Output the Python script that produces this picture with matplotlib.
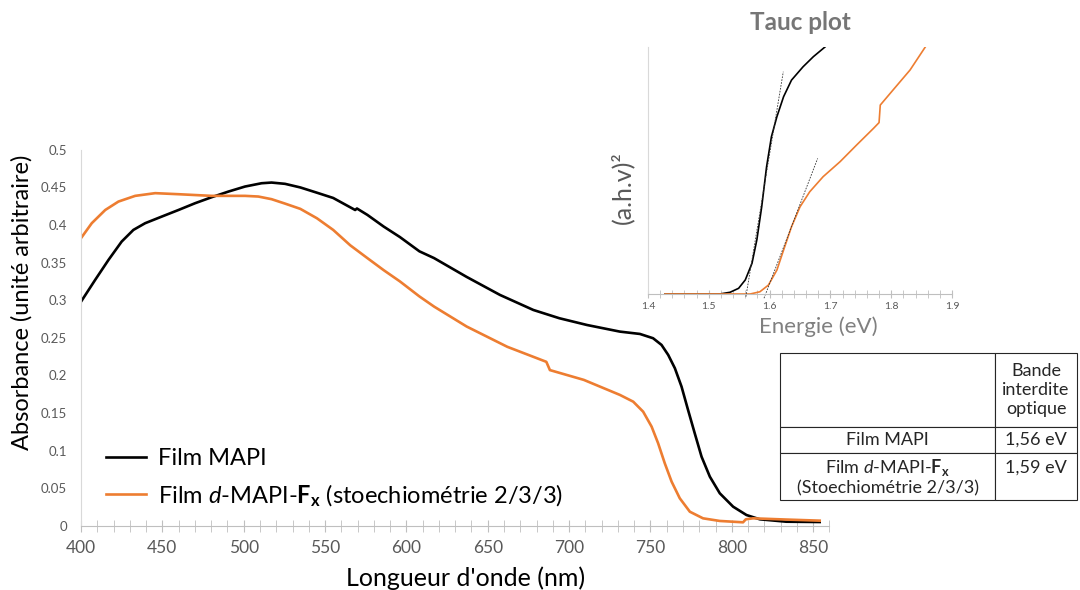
import matplotlib
matplotlib.use("Agg")
import matplotlib.pyplot as plt
from matplotlib.ticker import MultipleLocator, FuncFormatter

plt.rcParams["font.family"] = ["Lato", "DejaVu Sans"]
plt.rcParams["mathtext.fontset"] = "custom"
plt.rcParams["mathtext.rm"] = "Lato"
plt.rcParams["mathtext.it"] = "Lato:italic"
plt.rcParams["mathtext.bf"] = "Lato:bold"

# --- Absorbance spectra (nm, arbitrary units) ---
wl_mapi = [400, 408.7, 416.9, 425, 432.2, 439.4, 449.6, 459.9, 470.1, 480.3, 490.6,
           500.8, 511, 517.1, 525.4, 534.8, 545, 555, 568.5, 569.6, 576, 586, 596,
           608, 617, 637, 657.5, 678, 694, 711, 731.2, 743.5, 751.6, 756.8, 760.9,
           765, 769.1, 773.1, 777.2, 781.4, 786.5, 792.6, 800.8, 809, 817.2, 833.5, 854]
abs_mapi = [0.298, 0.327, 0.3536, 0.378, 0.3935, 0.4024, 0.4112, 0.420, 0.429, 0.437,
            0.4445, 0.4512, 0.4556, 0.4565, 0.4548, 0.450, 0.443, 0.436, 0.420, 0.422,
            0.4135, 0.398, 0.384, 0.365, 0.356, 0.331, 0.307, 0.287, 0.276, 0.267,
            0.2582, 0.2551, 0.2494, 0.2405, 0.2272, 0.2095, 0.185, 0.154, 0.123,
            0.0918, 0.0652, 0.0431, 0.0253, 0.0142, 0.0085, 0.0053, 0.0049]

wl_dmapi = [400, 406.6, 414.9, 423, 433.3, 445.6, 459.9, 480.3, 500.8, 509, 517.1,
            525.4, 534.8, 545, 555, 565.5, 576, 586, 596, 608, 617, 637, 662, 686,
            688.2, 709, 731.2, 739.4, 745.5, 750.7, 754.7, 758.8, 763, 768, 774.2,
            782.3, 792.6, 806.9, 808.6, 813, 833, 854]
abs_dmapi = [0.3825, 0.4024, 0.420, 0.4312, 0.4388, 0.4424, 0.441, 0.4388, 0.4388,
             0.4379, 0.4344, 0.4285, 0.4215, 0.409, 0.3935, 0.373, 0.356, 0.340,
             0.325, 0.305, 0.2915, 0.265, 0.238, 0.218, 0.207, 0.194, 0.174, 0.165,
             0.1517, 0.1318, 0.1097, 0.083, 0.0586, 0.0365, 0.0186, 0.0098, 0.0063,
             0.0045, 0.0085, 0.0098, 0.0082, 0.0067]

# --- Tauc plot (eV, normalised (a.h.v)^2) ---
e_mapi = [1.428, 1.518, 1.535, 1.549, 1.560, 1.571, 1.579, 1.587, 1.595, 1.603,
          1.612, 1.623, 1.636, 1.655, 1.672, 1.691]
tauc_mapi = [0, 0, 0.007, 0.023, 0.057, 0.124, 0.219, 0.353, 0.515, 0.637, 0.718,
             0.799, 0.866, 0.920, 0.961, 1.0]
e_dmapi = [1.428, 1.568, 1.584, 1.598, 1.612, 1.623, 1.636, 1.650, 1.666, 1.688,
           1.716, 1.743, 1.771, 1.780, 1.782, 1.803, 1.831, 1.856]
tauc_dmapi = [0, 0, 0.009, 0.036, 0.097, 0.178, 0.272, 0.353, 0.414, 0.475, 0.536,
              0.603, 0.671, 0.694, 0.765, 0.826, 0.907, 1.0]
fit_mapi_e = [1.561, 1.6225]
fit_mapi_y = [-0.011, 0.900]
fit_dmapi_e = [1.5908, 1.679]
fit_dmapi_y = [-0.017, 0.549]

# --- Table ---
table_rows = [["", "Bande\ninterdite\noptique"],
              ["Film MAPI", "1,56 eV"],
              ["Film $\\mathit{d}$-MAPI-$\\mathbf{F_x}$\n(Stoechiométrie 2/3/3)", "1,59 eV\n"]]

BLACK = "#000000"
ORANGE = "#ED7D31"
GREY = "#595959"

fig = plt.figure(figsize=(10.8, 5.9), dpi=100)

# --- Main absorbance plot ---
ax = fig.add_axes([0.075, 0.109, 0.693, 0.637])
ax.plot(wl_mapi, abs_mapi, color=BLACK, lw=1.9, label="Film MAPI")
ax.plot(wl_dmapi, abs_dmapi, color=ORANGE, lw=1.9,
        label="Film $\\mathit{d}$-MAPI-$\\mathbf{F_x}$ (stoechiométrie 2/3/3)")
ax.set_xlim(400, 860)
ax.set_ylim(0, 0.5)
ax.xaxis.set_major_locator(MultipleLocator(50))
ax.xaxis.set_minor_locator(MultipleLocator(10))
ax.yaxis.set_major_locator(MultipleLocator(0.05))
ax.yaxis.set_major_formatter(FuncFormatter(lambda v, p: f"{v:g}"))
for s in ["top", "right"]:
    ax.spines[s].set_visible(False)
ax.spines["left"].set_color("#d9d9d9")
ax.spines["bottom"].set_color("#bfbfbf")
ax.tick_params(axis="y", length=0, pad=10, labelsize=9.5, labelcolor=GREY)
ax.tick_params(axis="x", which="both", direction="inout", length=9, color="#bfbfbf",
               labelsize=12.5, labelcolor=GREY, pad=6)
ax.set_xlabel("Longueur d'onde (nm)", fontsize=18, labelpad=7)
ax.set_ylabel("Absorbance (unité arbitraire)", fontsize=17, labelpad=6)
ax.xaxis.label.set_x(0.514)
ax.yaxis.label.set_y(0.595)
ax.legend(loc="lower left", bbox_to_anchor=(0.018, 0.014), frameon=False, fontsize=17,
          handlelength=1.7, handletextpad=0.5, labelspacing=0.55, borderpad=0)

# --- Inset Tauc plot ---
ins = fig.add_axes([0.6, 0.5017, 0.2815, 0.4186])
ins.patch.set_alpha(0)
ins.plot(e_mapi, tauc_mapi, color=BLACK, lw=1.2)
ins.plot(e_dmapi, tauc_dmapi, color=ORANGE, lw=1.2)
ins.plot(fit_mapi_e, fit_mapi_y, color="#333333", lw=0.6, ls=(0, (2, 1.5)), clip_on=False)
ins.plot(fit_dmapi_e, fit_dmapi_y, color="#333333", lw=0.6, ls=(0, (2, 1.5)), clip_on=False)
ins.set_xlim(1.4, 1.9)
ins.set_ylim(0, 1)
ins.xaxis.set_major_locator(MultipleLocator(0.1))
ins.xaxis.set_minor_locator(MultipleLocator(0.02))
ins.xaxis.set_major_formatter(FuncFormatter(lambda v, p: f"{v:.1f}"))
ins.set_yticks([])
for s in ["top", "right"]:
    ins.spines[s].set_visible(False)
ins.spines["left"].set_color("#d9d9d9")
ins.spines["bottom"].set_color("#bfbfbf")
ins.tick_params(axis="x", which="both", direction="inout", length=6, color="#bfbfbf",
                labelsize=7.5, labelcolor=GREY, pad=3)
ins.set_xlabel("Energie (eV)", fontsize=16, color="#808080", labelpad=4)
ins.set_ylabel("(a.h.v)²", fontsize=18, color=GREY, labelpad=10)
ins.xaxis.label.set_x(0.559)
ins.yaxis.label.set_y(0.429)
ins.set_title("Tauc plot", fontsize=17.5, fontweight="bold", color="#767676", pad=12)

# --- Band gap table ---
tax = fig.add_axes([0.7222, 0.1525, 0.275, 0.249])
tax.axis("off")
tbl = tax.table(cellText=table_rows, colWidths=[0.725, 0.275], cellLoc="center",
                bbox=[0, 0, 1, 1])
tbl.auto_set_font_size(False)
tbl.set_fontsize(13)
row_h = [74, 26, 47]
for (r, c), cell in tbl.get_celld().items():
    cell.set_height(row_h[r])
    cell.set_linewidth(0.8)
    cell.set_edgecolor("#262626")
    cell.get_text().set_color("#262626")
    cell.get_text().set_linespacing(1.2)

fig.savefig("out.png", dpi=100)
